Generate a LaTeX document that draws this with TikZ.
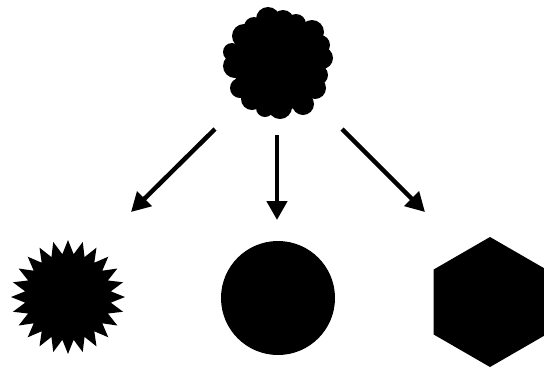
\documentclass[tikz,border=0pt]{standalone}
\usetikzlibrary{shapes.symbols,shapes.geometric,arrows.meta}
\begin{document}
\begin{tikzpicture}[x=1pt,y=-1pt,
  blob/.style={fill=black,draw=none,inner sep=0pt},
  conn/.style={line width=4.5pt,-{Triangle[width=20pt,length=19pt]}}]
\useasboundingbox (0,0) rectangle (544,368);
% lumpy cloud: core plus irregular puffs
\node[blob,cloud,cloud puffs=15,cloud puff arc=120,aspect=1,minimum width=96pt,minimum height=98pt] (cloud) at (278,63) {};
\foreach \x/\y/\r in {268/19/12, 283/21/11, 254/27/10, 244/36/12, 312/32/12, 320/45/10,
                      322/58/11, 318/75/10, 315/88/11, 303/104/11, 280/107/12, 265/108/9,
                      252/99/11, 240/88/10, 235/66/12, 232/52/9, 296/24/10}
  \fill (\x,\y) circle[radius=\r];
\node[blob,star,star points=24,star point ratio=1.32,minimum size=114pt] (burst) at (68,297) {};
\node[blob,circle,minimum size=114pt] (disc) at (278,298) {};
\node[blob,regular polygon,regular polygon sides=6,shape border rotate=90,minimum size=130pt] (hex) at (490,302) {};
\coordinate (s1) at (215,129); \coordinate (e1) at (131,212);
\coordinate (s2) at (277,135); \coordinate (e2) at (277,220);
\coordinate (s3) at (342,129); \coordinate (e3) at (425,212);
\draw[conn] (s1) -- (e1);
\draw[conn] (s2) -- (e2);
\draw[conn] (s3) -- (e3);
\end{tikzpicture}
\end{document}
